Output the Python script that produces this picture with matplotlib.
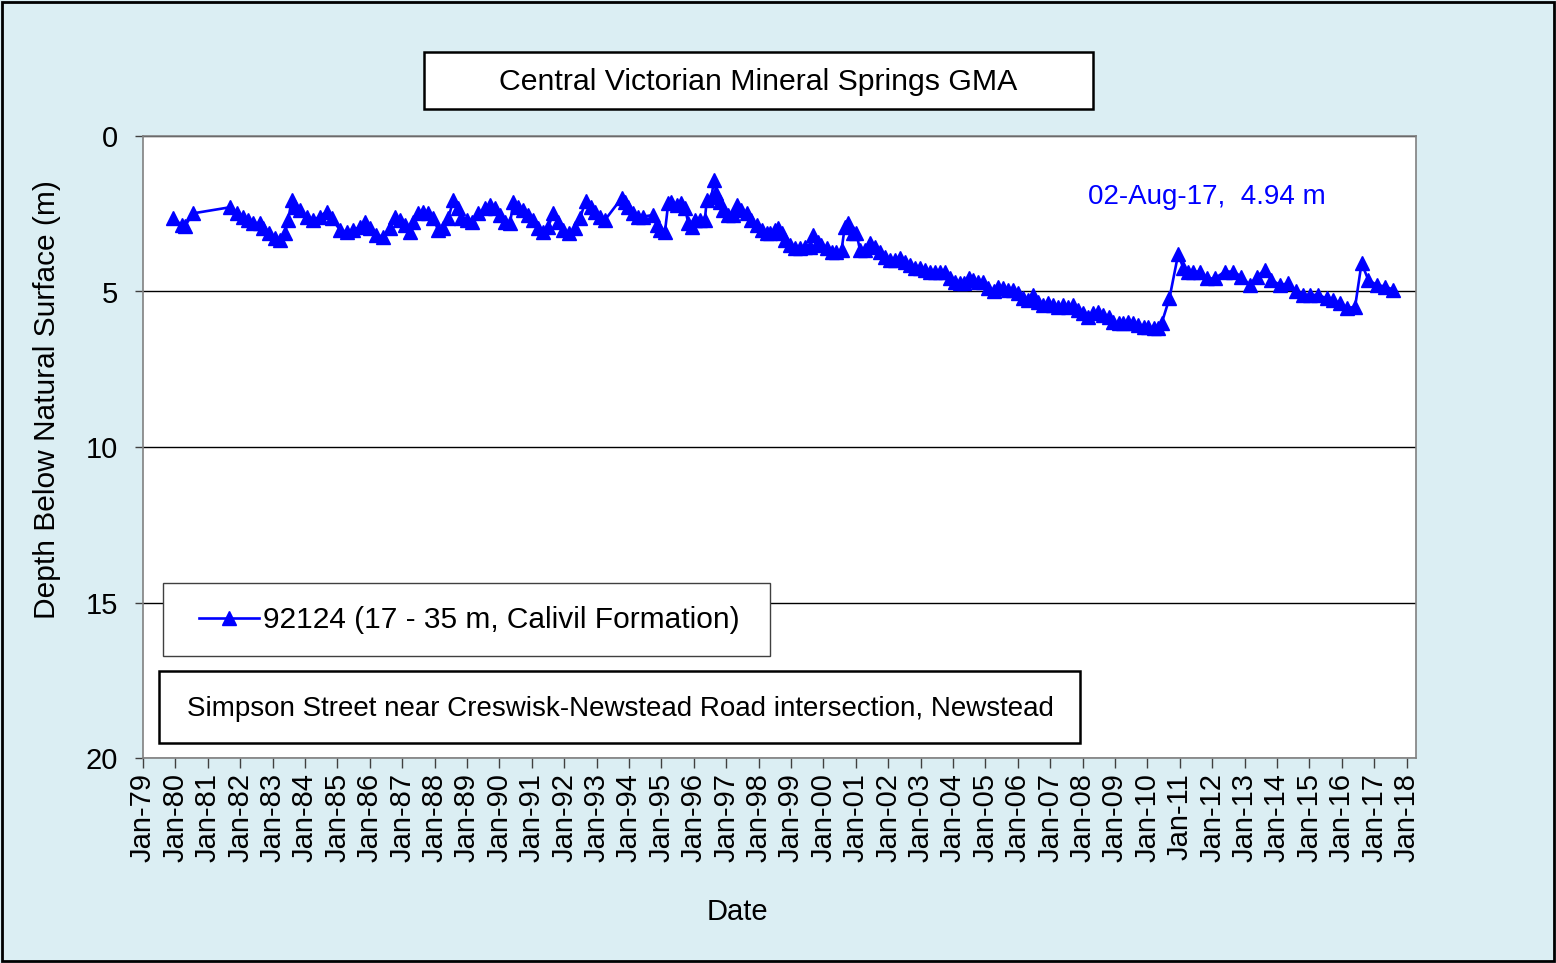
import matplotlib
matplotlib.use("Agg")
import matplotlib.pyplot as plt
from matplotlib.patches import Rectangle
from matplotlib.ticker import FixedLocator, FixedFormatter

plt.rcParams['font.family'] = ['Liberation Sans', 'DejaVu Sans']

# ---------------- data (decimal year, depth below natural surface in m) -----
years = [
    1979.94, 1980.19, 1980.30, 1980.53, 1981.69, 1981.90, 1982.10, 1982.25,
    1982.40, 1982.60, 1982.70, 1982.90, 1983.07, 1983.23, 1983.38, 1983.48,
    1983.59, 1983.70, 1983.85, 1984.05, 1984.26, 1984.46, 1984.67, 1984.82,
    1985.08, 1985.29, 1985.49, 1985.70, 1985.85, 1986.00, 1986.20, 1986.42,
    1986.62, 1986.78, 1986.93, 1987.09, 1987.24, 1987.34, 1987.50, 1987.65,
    1987.80, 1987.96, 1988.11, 1988.27, 1988.42, 1988.58, 1988.73, 1988.83,
    1988.99, 1989.14, 1989.35, 1989.56, 1989.71, 1989.86, 1990.02, 1990.17,
    1990.33, 1990.43, 1990.58, 1990.74, 1990.89, 1991.05, 1991.20, 1991.36,
    1991.51, 1991.66, 1991.82, 1991.97, 1992.15, 1992.33, 1992.49, 1992.66,
    1992.84, 1992.95, 1993.10, 1993.26, 1993.77, 1993.87, 1993.98, 1994.13,
    1994.29, 1994.44, 1994.75, 1994.85, 1994.96, 1995.11, 1995.21, 1995.31,
    1995.47, 1995.62, 1995.73, 1995.83, 1995.93, 1996.04, 1996.19, 1996.34,
    1996.40, 1996.55, 1996.62, 1996.70, 1996.81, 1996.91, 1997.06, 1997.22,
    1997.32, 1997.47, 1997.63, 1997.78, 1997.94, 1998.09, 1998.25, 1998.35,
    1998.50, 1998.60, 1998.71, 1998.81, 1998.96, 1999.12, 1999.27, 1999.43,
    1999.58, 1999.68, 1999.84, 1999.94, 2000.10, 2000.25, 2000.40, 2000.56,
    2000.66, 2000.76, 2000.92, 2001.02, 2001.13, 2001.28, 2001.44, 2001.59,
    2001.75, 2001.90, 2002.06, 2002.21, 2002.37, 2002.52, 2002.68, 2002.83,
    2002.98, 2003.14, 2003.29, 2003.45, 2003.60, 2003.75, 2003.91, 2004.06,
    2004.22, 2004.35, 2004.48, 2004.63, 2004.78, 2004.94, 2005.09, 2005.25,
    2005.40, 2005.55, 2005.71, 2005.86, 2006.02, 2006.17, 2006.33, 2006.48,
    2006.63, 2006.79, 2006.94, 2007.10, 2007.25, 2007.41, 2007.56, 2007.71,
    2007.87, 2008.02, 2008.18, 2008.33, 2008.49, 2008.64, 2008.80, 2008.95,
    2009.11, 2009.26, 2009.41, 2009.57, 2009.72, 2009.88, 2010.03, 2010.19,
    2010.34, 2010.44, 2010.68, 2010.95, 2011.11, 2011.26, 2011.41, 2011.62,
    2011.83, 2012.08, 2012.39, 2012.65, 2012.90, 2013.16, 2013.37, 2013.62,
    2013.83, 2014.09, 2014.34, 2014.60, 2014.81, 2015.02, 2015.27, 2015.53,
    2015.74, 2015.94, 2016.15, 2016.41, 2016.61, 2016.82, 2017.08, 2017.33,
    2017.59,
]
depths = [
    2.65, 2.86, 2.90, 2.49, 2.29, 2.49, 2.59, 2.70,
    2.80, 2.80, 2.97, 3.13, 3.29, 3.34, 3.13, 2.70,
    2.06, 2.27, 2.38, 2.59, 2.70, 2.59, 2.43, 2.65,
    3.02, 3.08, 3.02, 2.92, 2.75, 2.97, 3.18, 3.24,
    2.97, 2.59, 2.70, 2.86, 3.08, 2.75, 2.49, 2.43,
    2.49, 2.65, 3.02, 2.97, 2.65, 2.06, 2.33, 2.65,
    2.70, 2.75, 2.49, 2.33, 2.22, 2.33, 2.54, 2.75,
    2.80, 2.11, 2.27, 2.38, 2.54, 2.70, 2.97, 3.08,
    2.92, 2.49, 2.75, 3.02, 3.13, 2.97, 2.65, 2.08,
    2.27, 2.43, 2.59, 2.70, 2.00, 2.11, 2.27, 2.49,
    2.59, 2.59, 2.54, 2.86, 3.02, 3.08, 2.17, 2.11,
    2.22, 2.17, 2.33, 2.80, 2.92, 2.70, 2.70, 2.70,
    2.06, 1.95, 1.41, 1.84, 2.11, 2.38, 2.54, 2.54,
    2.22, 2.38, 2.49, 2.70, 2.86, 3.02, 3.13, 3.13,
    3.02, 2.97, 3.13, 3.34, 3.50, 3.61, 3.61, 3.56,
    3.56, 3.18, 3.40, 3.50, 3.61, 3.72, 3.72, 3.67,
    2.92, 2.80, 3.13, 3.13, 3.67, 3.67, 3.45, 3.56,
    3.72, 3.88, 3.99, 3.99, 3.93, 4.04, 4.15, 4.25,
    4.25, 4.31, 4.36, 4.36, 4.36, 4.36, 4.58, 4.68,
    4.74, 4.74, 4.58, 4.63, 4.68, 4.68, 4.90, 5.00,
    4.84, 4.90, 4.95, 4.95, 5.06, 5.22, 5.27, 5.11,
    5.33, 5.43, 5.38, 5.43, 5.49, 5.43, 5.49, 5.43,
    5.59, 5.70, 5.81, 5.70, 5.65, 5.76, 5.81, 5.97,
    6.02, 6.02, 5.97, 6.02, 6.08, 6.13, 6.13, 6.18,
    6.18, 6.02, 5.22, 3.80, 4.25, 4.36, 4.36, 4.36,
    4.58, 4.58, 4.36, 4.36, 4.52, 4.79, 4.52, 4.31,
    4.63, 4.79, 4.74, 5.00, 5.11, 5.11, 5.11, 5.22,
    5.27, 5.38, 5.54, 5.49, 4.09, 4.63, 4.79, 4.84,
    4.94,
]
tick_years = list(range(1979, 2019))
tick_labels = [f"Jan-{y % 100:02d}" for y in tick_years]
y_ticks = [0, 5, 10, 15, 20]

series_label = "92124 (17 - 35 m, Calivil Formation)"
title_text = "Central Victorian Mineral Springs GMA"
location_text = "Simpson Street near Creswisk-Newstead Road intersection, Newstead"
last_text = "02-Aug-17,  4.94 m"

# ---------------- figure -------------------------------------------------
W, H = 1556, 963
BG = '#DBEEF3'
fig = plt.figure(figsize=(W / 100, H / 100), dpi=100, facecolor=BG)

def fx(px):
    return px / W

def fy(py):
    return 1 - py / H

ax = fig.add_axes([fx(143), fy(758), fx(1416) - fx(143), fy(136) - fy(758)])
ax.set_facecolor('white')

line, = ax.plot(years, depths, color='#0000FF', lw=1.9, marker='^', ms=10,
                label=series_label, zorder=3)

ax.set_ylim(20, 0)
ax.set_xlim(1979, 1979 + (1416 - 143) / 32.4)
ax.yaxis.set_major_locator(FixedLocator(y_ticks))
ax.xaxis.set_major_locator(FixedLocator(tick_years))
ax.xaxis.set_major_formatter(FixedFormatter(tick_labels))
ax.yaxis.grid(True, color='black', lw=1.0, zorder=1)
ax.set_axisbelow(True)

for s in ax.spines.values():
    s.set_color('#808080')
    s.set_linewidth(1.2)

ax.tick_params(axis='y', direction='out', length=6, width=1, color='#404040',
               pad=12, labelsize=21)
ax.tick_params(axis='x', direction='out', length=7, width=1, color='#404040',
               pad=4, labelsize=21, labelrotation=90)

# annotation of last reading
ax.text(2008.17, 1.96, last_text, color='#0000FF', fontsize=20,
        ha='left', va='center', zorder=4)

# axis labels
fig.text(fx(47), fy(400), "Depth Below Natural Surface (m)", rotation=90,
         ha='center', va='center', fontsize=21.5)
fig.text(fx(737), fy(912), "Date", ha='center', va='center', fontsize=21)

# title box
fig.add_artist(Rectangle((fx(424), fy(109)), fx(1093) - fx(424), fy(52) - fy(109),
                         transform=fig.transFigure, facecolor='white',
                         edgecolor='black', lw=1.8, zorder=5))
fig.text(fx(758), fy(82), title_text, ha='center', va='center',
         fontsize=21.8, zorder=6)

# legend box
fig.add_artist(Rectangle((fx(163), fy(656)), fx(770) - fx(163), fy(583) - fy(656),
                         transform=fig.transFigure, facecolor='white',
                         edgecolor='#404040', lw=1.0, zorder=5))
leg = fig.legend(handles=[line], loc='center left',
                 bbox_to_anchor=(fx(199), fy(620)), frameon=False,
                 fontsize=21.5, handlelength=2.0, handletextpad=0.15,
                 borderpad=0, borderaxespad=0)
leg.set_zorder(10)

# location box
fig.add_artist(Rectangle((fx(159), fy(743)), fx(1080) - fx(159), fy(671) - fy(743),
                         transform=fig.transFigure, facecolor='white',
                         edgecolor='black', lw=1.8, zorder=5))
fig.text(fx(620), fy(709), location_text, ha='center', va='center',
         fontsize=20, zorder=6)

# outer border
fig.add_artist(Rectangle((0.0015, 0.002), 0.997, 0.996, transform=fig.transFigure,
                         fill=False, edgecolor='black', lw=2, zorder=20))

fig.savefig("out.png", dpi=100, facecolor=BG)
